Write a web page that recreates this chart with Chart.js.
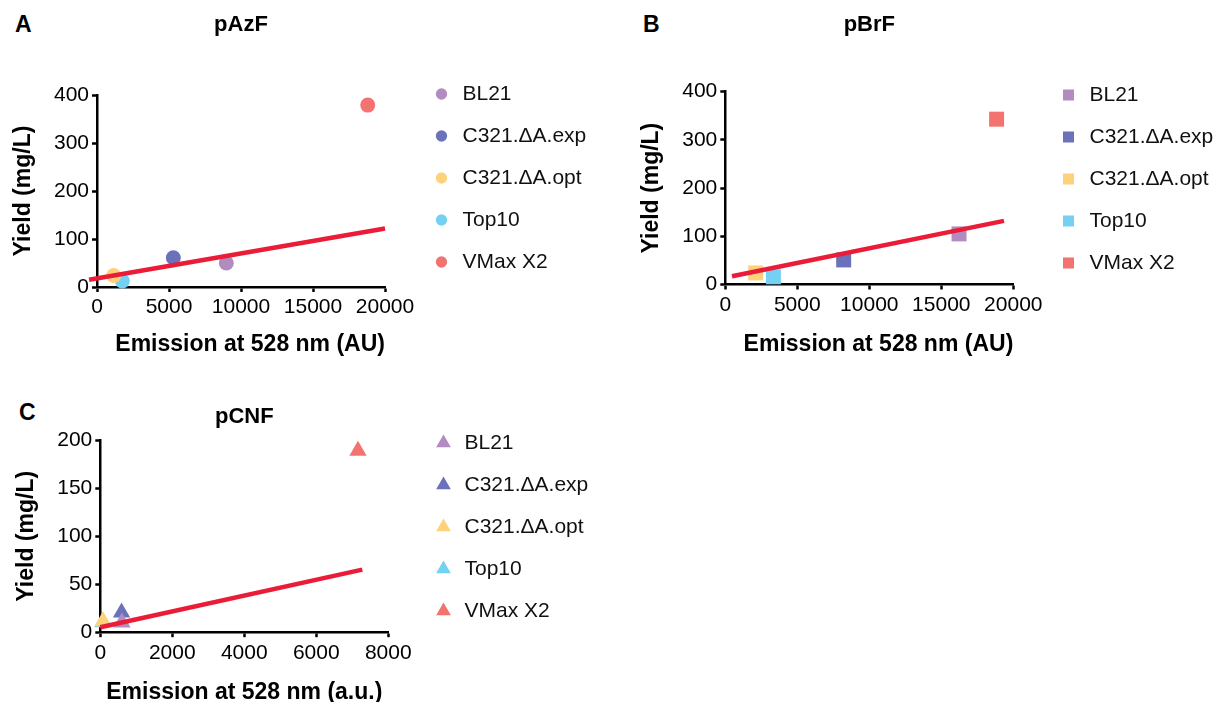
<!DOCTYPE html>
<html>
<head>
<meta charset="utf-8">
<script src="https://cdn.jsdelivr.net/npm/chart.js@4.4.1/dist/chart.umd.min.js"></script>
<style>
  html, body { margin: 0; padding: 0; background: #fff; width: 1229px; height: 702px; overflow: hidden; }
  canvas { position: absolute; }
  .letter { position: absolute; font: bold 23px "Liberation Sans", Arial, sans-serif; color: #000; line-height: 1; }
</style>
</head>
<body>
<div class="letter" style="left:15px; top:13px;">A</div>
<div class="letter" style="left:643px; top:13px;">B</div>
<div class="letter" style="left:19px; top:401px;">C</div>
<canvas id="chartA"></canvas>
<canvas id="chartB"></canvas>
<canvas id="chartC"></canvas>
<script>
// ---------- data ----------
const strains = ['BL21', 'C321.\u0394A.exp', 'C321.\u0394A.opt', 'Top10', 'VMax X2'];
const strainColors = ['#b28bc0', '#6a72b9', '#fdd27a', '#74d1f4', '#f2736f'];
const fitColor = '#ea1c37';

// pAzF
const azfEmission = [8980, 5300, 1160, 1760, 18800];
const azfYield    = [50, 61, 24, 12.5, 379];
const azfFitX     = [-550, 20000];
const azfFitY     = [15, 122];
const azfXTicks   = [0, 5000, 10000, 15000, 20000];
const azfYTicks   = [0, 100, 200, 300, 400];

// pBrF
const brfEmission = [16230, 8220, 2110, 3340, 18840];
const brfYield    = [105, 51, 24, 16, 343];
const brfFitX     = [465, 19350];
const brfFitY     = [17, 132];
const brfXTicks   = [0, 5000, 10000, 15000, 20000];
const brfYTicks   = [0, 100, 200, 300, 400];

// pCNF
const cnfEmission = [600, 590, 75, 70, 7158];
const cnfYield    = [10, 20.5, 11.5, 10.5, 189];
const cnfFitX     = [0, 7278];
const cnfFitY     = [5.2, 65.2];
const cnfXTicks   = [0, 2000, 4000, 6000, 8000];
const cnfYTicks   = [0, 50, 100, 150, 200];

// ---------- styling ----------
const REG = '"Liberation Sans", Arial, sans-serif';
const BOLD = '"Liberation Sans", Arial, sans-serif';
const LEGEND_SIZE = 21;
const LEGEND_PAD = 21;
const LEGEND_BOXW = 21;

function measure(text, font) {
  const c = document.createElement('canvas').getContext('2d');
  c.font = font;
  return c.measureText(text).width;
}

function buildPanel(p) {
  const canvas = document.getElementById(p.id);
  const maxText = Math.max(...strains.map(s => measure(s, `${LEGEND_SIZE}px ${REG}`)));
  const legendW = Math.ceil(LEGEND_PAD + LEGEND_BOXW + LEGEND_SIZE / 2 + maxText) + 2;
  const W = Math.ceil(p.legendLeft + legendW);
  const gapW = W - legendW - p.chartRight;
  canvas.width = W;
  canvas.height = p.H;
  canvas.style.left = p.left + 'px';
  canvas.style.top = p.top + 'px';

  const datasets = strains.map((s, i) => ({
    label: s,
    data: [{ x: p.emission[i], y: p.yield[i] }],
    backgroundColor: strainColors[i],
    borderColor: strainColors[i],
    pointStyle: p.shape,
    pointRadius: p.radius,
    pointBorderWidth: 0,
    borderWidth: 0,
    clip: false,
    order: 0
  }));
  datasets.push({
    label: 'fit',
    data: p.fitX.map((x, i) => ({ x, y: p.fitY[i] })),
    showLine: true,
    borderColor: fitColor,
    backgroundColor: fitColor,
    borderWidth: 4.5,
    pointRadius: 0,
    clip: false,
    order: -1
  });

  const tickFont = { family: REG, size: 21 };
  const titleFont = { family: BOLD, size: 23, weight: 'bold', lineHeight: 1 };

  new Chart(canvas, {
    type: 'scatter',
    data: { datasets },
    options: {
      responsive: false,
      animation: false,
      events: [],
      layout: { padding: { top: p.padTop, left: 0, right: 0, bottom: 0 } },
      plugins: {
        tooltip: { enabled: false },
        title: {
          display: true,
          text: p.title,
          fullSize: false,
          color: '#000',
          font: { family: BOLD, size: 22, weight: 'bold', lineHeight: 1 },
          padding: { top: p.titlePadTop, bottom: p.titlePadBottom }
        },
        legend: {
          position: 'right',
          align: 'start',
          fullSize: true,
          maxWidth: legendW,
          labels: {
            usePointStyle: true,
            boxWidth: LEGEND_BOXW,
            boxHeight: p.legendBox,
            padding: LEGEND_PAD,
            color: '#111',
            font: { family: REG, size: LEGEND_SIZE },
            filter: (item) => item.datasetIndex < strains.length,
            sort: (a, b) => a.datasetIndex - b.datasetIndex
          }
        }
      },
      scales: {
        x: {
          type: 'linear',
          position: 'bottom',
          min: p.xTicks[0],
          max: p.xTicks[p.xTicks.length - 1],
          afterBuildTicks: (s) => { s.ticks = p.xTicks.map(v => ({ value: v })); },
          ticks: { callback: (v) => String(v), font: tickFont, color: '#000', maxRotation: 0, autoSkip: false, padding: 3 },
          grid: { display: true, drawOnChartArea: false, drawTicks: true, tickLength: 5, tickWidth: 2.5, tickColor: '#000' },
          border: { display: true, color: '#000', width: 2.5 },
          title: { display: true, text: p.xTitle, align: p.xTitleAlign, color: '#000', font: titleFont, padding: { top: 0, bottom: 0 } },
          afterFit: (s) => { s.height = p.H - p.chartBottom; }
        },
        y: {
          type: 'linear',
          position: 'left',
          min: p.yTicks[0],
          max: p.yTicks[p.yTicks.length - 1],
          afterBuildTicks: (s) => { s.ticks = p.yTicks.map(v => ({ value: v })); },
          ticks: { callback: (v) => String(v), font: tickFont, color: '#000', padding: 3 },
          grid: { display: true, drawOnChartArea: false, drawTicks: true, tickLength: 5, tickWidth: 2.5, tickColor: '#000' },
          border: { display: true, color: '#000', width: 2.5 },
          title: { display: true, text: 'Yield (mg/L)', color: '#000', font: titleFont, padding: { top: p.yTitlePad, bottom: 0 } },
          afterFit: (s) => { s.width = p.chartLeft; }
        },
        gap: {
          type: 'linear',
          axis: 'y',
          position: 'right',
          display: true,
          grid: { display: false },
          ticks: { display: false },
          border: { display: false },
          afterFit: (s) => { s.width = gapW; }
        }
      }
    }
  });
}

buildPanel({
  id: 'chartA', left: 0, top: 0, H: 356,
  title: 'pAzF', xTitle: 'Emission at 528 nm (AU)', xTitleAlign: 'end',
  emission: azfEmission, yield: azfYield, fitX: azfFitX, fitY: azfFitY,
  xTicks: azfXTicks, yTicks: azfYTicks,
  shape: 'circle', radius: 7.5, legendBox: 8,
  padTop: 62.5, titlePadTop: -48.5, titlePadBottom: 59,
  chartLeft: 97, chartRight: 385, chartBottom: 287, yTitlePad: 12.5,
  legendLeft: 409.2
});

buildPanel({
  id: 'chartB', left: 620, top: 0, H: 356.5,
  title: 'pBrF', xTitle: 'Emission at 528 nm (AU)', xTitleAlign: 'end',
  emission: brfEmission, yield: brfYield, fitX: brfFitX, fitY: brfFitY,
  xTicks: brfXTicks, yTicks: brfYTicks,
  shape: 'rect', radius: 10.6, legendBox: 11,
  padTop: 63.5, titlePadTop: -49.5, titlePadBottom: 55.7,
  chartLeft: 105.3, chartRight: 393.3, chartBottom: 285, yTitlePad: 20.2,
  legendLeft: 416.8
});

buildPanel({
  id: 'chartC', left: 0, top: 390, H: 314.5,
  title: 'pCNF', xTitle: 'Emission at 528 nm (a.u.)', xTitleAlign: 'center',
  emission: cnfEmission, yield: cnfYield, fitX: cnfFitX, fitY: cnfFitY,
  xTicks: cnfXTicks, yTicks: cnfYTicks,
  shape: 'triangle', radius: 10, legendBox: 12,
  padTop: 21.5, titlePadTop: -5.8, titlePadBottom: 12.6,
  chartLeft: 100.3, chartRight: 388.3, chartBottom: 242.7, yTitlePad: 15.5,
  legendLeft: 411.5
});
</script>
</body>
</html>
